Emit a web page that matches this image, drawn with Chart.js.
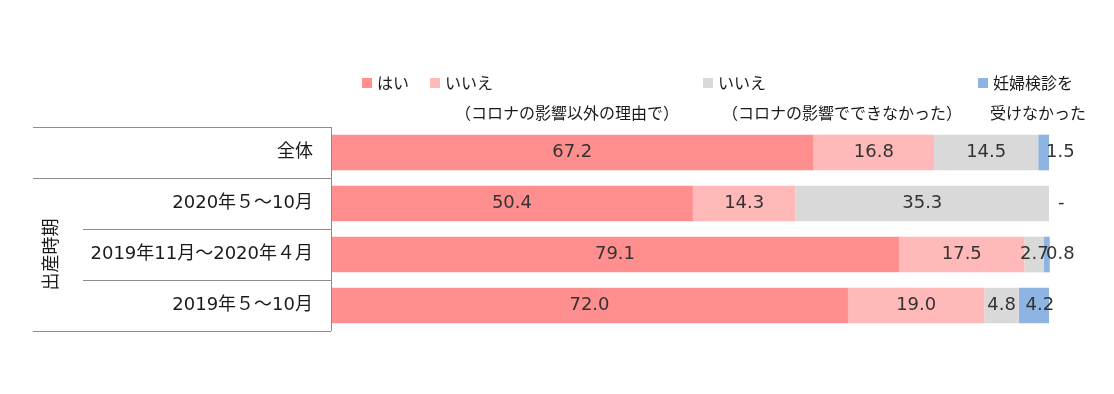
<!DOCTYPE html>
<html>
<head>
<meta charset="utf-8">
<script src="https://cdn.jsdelivr.net/npm/chart.js@4"></script>
<style>
  html, body { margin: 0; padding: 0; background: #fff; }
  #wrap { width: 1114px; height: 394px; position: relative; }
</style>
</head>
<body>
<div id="wrap"><canvas id="grafico"></canvas></div>
<script>
/* datos */
const categories = ['全体', '2020年５～10月', '2019年11月～2020年４月', '2019年５～10月'];
const groupLabel = '出産時期';
const seriesNames = [
    ['はい'],
    ['いいえ', '（コロナの影響以外の理由で）'],
    ['いいえ', '（コロナの影響でできなかった）'],
    ['妊婦検診を', '受けなかった']
];
const yes = [67.2, 50.4, 79.1, 72.0];
const noOther = [16.8, 14.3, 17.5, 19.0];
const noCorona = [14.5, 35.3, 2.7, 4.8];
const noCheckup = [1.5, 0, 0.8, 4.2];
const colors = ['#FF8E8E', '#FFB9B9', '#D9D9D9', '#8DB4E2'];

const FONT = '"Noto Sans CJK JP", "Noto Sans", sans-serif';
const NUMFONT = '"DejaVu Sans", "Noto Sans CJK JP", sans-serif';

/* leyenda, etiquetas y lineas */
const decoPlugin = {
    id: 'deco',
    afterDraw(chart) {
        const ctx = chart.ctx;
        const y = chart.scales.y;
        const x = chart.scales.x;
        const left = x.left;
        ctx.save();
        ctx.font = '16px ' + FONT;
        ctx.fillStyle = '#1a1a1a';
        ctx.textBaseline = 'middle';

        // legend
        const legX = [362, 430, 703, 978];
        const line2X = [0, 455, 722, 990];
        seriesNames.forEach((name, i) => {
            ctx.fillStyle = colors[i];
            ctx.fillRect(legX[i], 78, 10, 10);
            ctx.fillStyle = '#1a1a1a';
            ctx.textAlign = 'left';
            ctx.fillText(name[0], legX[i] + 15, 83);
            if (name[1]) ctx.fillText(name[1], line2X[i], 113);
        });

        // category labels
        ctx.font = '18px ' + NUMFONT;
        ctx.textAlign = 'right';
        categories.forEach((c, i) => {
            ctx.fillText(c, 313, y.getPixelForValue(i));
        });

        // grid lines of the table
        const band = y.getPixelForValue(1) - y.getPixelForValue(0);
        const top = y.getPixelForValue(0) - band / 2;
        ctx.strokeStyle = '#8C8C8C';
        ctx.lineWidth = 1;
        const hl = (yy, x0) => {
            ctx.beginPath();
            ctx.moveTo(x0, Math.round(yy) + 0.5);
            ctx.lineTo(left, Math.round(yy) + 0.5);
            ctx.stroke();
        };
        hl(top, 33);
        hl(top + band, 33);
        hl(top + band * 2, 83);
        hl(top + band * 3, 83);
        hl(top + band * 4, 33);
        ctx.beginPath();
        ctx.moveTo(Math.round(left) + 0.5, top);
        ctx.lineTo(Math.round(left) + 0.5, top + band * 4);
        ctx.stroke();

        // group label, rotated
        ctx.save();
        ctx.font = '18px ' + FONT;
        ctx.translate(50, top + band * 2.5);
        ctx.rotate(-Math.PI / 2);
        ctx.textAlign = 'center';
        ctx.fillStyle = '#1a1a1a';
        ctx.fillText(groupLabel, 0, 0);
        ctx.restore();

        // value labels
        ctx.font = '18px ' + NUMFONT;
        ctx.fillStyle = '#333333';
        chart.data.datasets.forEach((ds, di) => {
            const meta = chart.getDatasetMeta(di);
            meta.data.forEach((bar, i) => {
                const v = ds.data[i];
                const xs = Math.min(bar.x, bar.base);
                const xe = Math.max(bar.x, bar.base);
                if (di === 3 && v < 2) {
                    ctx.textAlign = 'left';
                    ctx.fillText(v === 0 ? '-' : v.toFixed(1), x.right + (v === 0 ? 9 : -3), bar.y);
                } else {
                    ctx.textAlign = 'center';
                    ctx.fillText(v.toFixed(1), (xs + xe) / 2 + (di === 3 ? 6 : 0), bar.y);
                }
            });
        });
        ctx.restore();
    }
};

const grafico = document.getElementById('grafico').getContext('2d');
new Chart(grafico, {
    type: 'bar',
    data: {
        labels: categories,
        datasets: [yes, noOther, noCorona, noCheckup].map((d, i) => ({
            label: seriesNames[i].join(''),
            data: d,
            backgroundColor: colors[i],
            borderWidth: 0,
            barPercentage: 0.7,
            categoryPercentage: 1,
            clip: false
        }))
    },
    options: {
        indexAxis: 'y',
        responsive: true,
        maintainAspectRatio: false,
        animation: false,
        layout: {
            padding: { left: 331, right: 65, top: 127, bottom: 63 }
        },
        plugins: {
            legend: { display: false },
            tooltip: { enabled: false }
        },
        scales: {
            x: { stacked: true, min: 0, max: 100, display: false },
            y: { stacked: true, display: false }
        }
    },
    plugins: [decoPlugin]
});
</script>
</body>
</html>
